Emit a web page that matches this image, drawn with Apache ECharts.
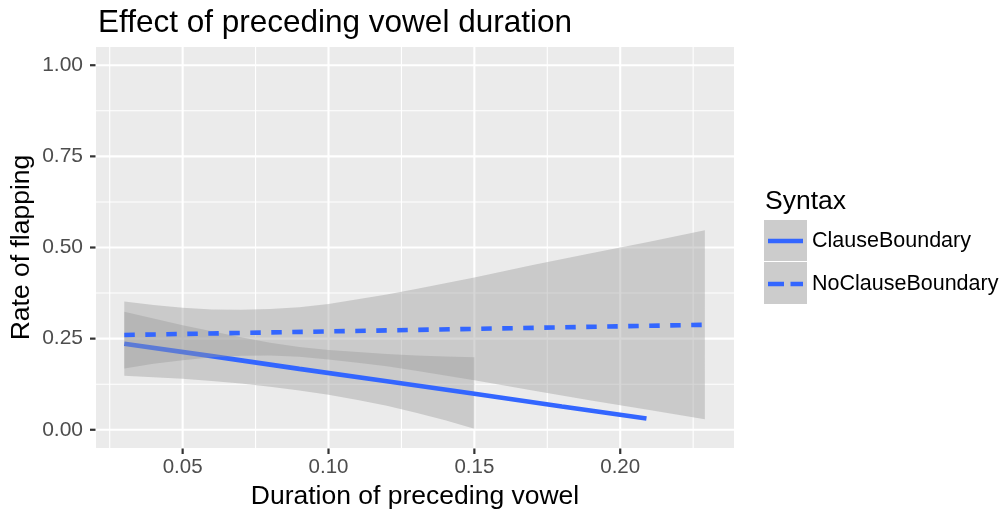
<!DOCTYPE html>
<html><head><meta charset="utf-8">
<script src="https://cdn.jsdelivr.net/npm/echarts@6/dist/echarts.min.js"></script>
<style>html,body{margin:0;padding:0;background:#fff}#c{width:1005px;height:512px}</style>
</head><body><div id="c"></div>
<script>
// ---- data ----
const xTicks = [0.05, 0.10, 0.15, 0.20];
const xMinor = [0.025, 0.075, 0.125, 0.175, 0.225];
const yTicks = [0, 0.25, 0.5, 0.75, 1];
const yMinor = [0.125, 0.375, 0.625, 0.875];
const seriesNames = ['ClauseBoundary', 'NoClauseBoundary'];

const clauseX = [0.030, 0.060, 0.090, 0.120, 0.150, 0.180, 0.209];
const clauseY = [0.236, 0.202, 0.167, 0.133, 0.099, 0.064, 0.031];
const clauseBandX = [0.03, 0.04, 0.05, 0.06, 0.07, 0.08, 0.09, 0.10, 0.11, 0.12, 0.13, 0.14, 0.15];
const clauseUpper = [0.324, 0.305, 0.287, 0.270, 0.254, 0.239, 0.227, 0.219, 0.213, 0.208, 0.204, 0.201, 0.199];
const clauseLower = [0.148, 0.144, 0.140, 0.134, 0.127, 0.118, 0.108, 0.096, 0.082, 0.066, 0.047, 0.026, 0.003];

const noClauseX = [0.030, 0.080, 0.130, 0.180, 0.229];
const noClauseY = [0.260, 0.267, 0.274, 0.281, 0.288];
const noClauseBandX = [0.03, 0.04, 0.05, 0.06, 0.07, 0.08, 0.09, 0.10, 0.11, 0.12, 0.13, 0.15, 0.17, 0.19, 0.21, 0.229];
const noClauseUpper = [0.352, 0.342, 0.335, 0.330, 0.329, 0.331, 0.336, 0.345, 0.358, 0.371, 0.386, 0.418, 0.452, 0.484, 0.516, 0.547];
const noClauseLower = [0.168, 0.181, 0.191, 0.199, 0.203, 0.204, 0.200, 0.193, 0.184, 0.174, 0.162, 0.136, 0.108, 0.080, 0.054, 0.029];

// ---- chart ----
const FONT = '"Liberation Sans", Arial, Helvetica, sans-serif';
const X_MIN = 0.0203, X_MAX = 0.2390, Y_MIN = -0.05, Y_MAX = 1.05;
const BLUE = '#3366FF';

function bandSeries(name, xs, lo, hi, z) {
  return {
    type: 'custom', name: name, z: z, silent: true, animation: false,
    data: [[xs[0], lo[0]]],
    renderItem: function (params, api) {
      const pts = [];
      for (let i = 0; i < xs.length; i++) pts.push(api.coord([xs[i], hi[i]]));
      for (let i = xs.length - 1; i >= 0; i--) pts.push(api.coord([xs[i], lo[i]]));
      return { type: 'polygon', shape: { points: pts }, style: { fill: 'rgba(153,153,153,0.4)' } };
    }
  };
}

const gridSeries = {
  type: 'custom', name: 'gridlines', z: 1, silent: true, animation: false, clip: false,
  data: [[X_MIN, Y_MIN]],
  renderItem: function (params, api) {
    const children = [];
    const mk = (a, b, w, c) => children.push({ type: 'line', shape: { x1: a[0], y1: a[1], x2: b[0], y2: b[1] },
      style: { stroke: c || '#FFFFFF', lineWidth: w } });
    xMinor.forEach(v => mk(api.coord([v, Y_MIN]), api.coord([v, Y_MAX]), 1.1));
    yMinor.forEach(v => mk(api.coord([X_MIN, v]), api.coord([X_MAX, v]), 1.1));
    xTicks.forEach(v => mk(api.coord([v, Y_MIN]), api.coord([v, Y_MAX]), 2.1));
    yTicks.forEach(v => mk(api.coord([X_MIN, v]), api.coord([X_MAX, v]), 2.1));
    // axis ticks (outside the panel)
    xTicks.forEach(v => { const p = api.coord([v, Y_MIN]); mk([p[0], p[1] + 0.5], [p[0], p[1] + 6], 2.2, '#333333'); });
    yTicks.forEach(v => { const p = api.coord([X_MIN, v]); mk([p[0] - 6, p[1]], [p[0] - 0.5, p[1]], 2.2, '#333333'); });
    return { type: 'group', children: children };
  }
};

const chart = echarts.init(document.getElementById('c'));
chart.setOption({
  animation: false,
  backgroundColor: '#FFFFFF',
  title: {
    text: 'Effect of preceding vowel duration', left: 93, top: 2,
    textStyle: { fontFamily: FONT, fontSize: 31.5, fontWeight: 'normal', color: '#000' }
  },
  grid: { left: 96, right: 271, top: 47, bottom: 64, show: true, backgroundColor: '#EBEBEB', borderWidth: 0,
    containLabel: false, outerBoundsMode: 'none' },
  xAxis: {
    type: 'value', min: X_MIN, max: X_MAX,
    name: 'Duration of preceding vowel', nameLocation: 'middle', nameGap: 30,
    nameTextStyle: { fontFamily: FONT, fontSize: 26.5, color: '#000' },
    axisLine: { show: false },
    axisTick: { show: false },
    axisLabel: { customValues: xTicks, formatter: v => v.toFixed(2), color: '#4D4D4D', fontFamily: FONT, fontSize: 20.5, margin: 9 },
    splitLine: { show: false }
  },
  yAxis: {
    type: 'value', min: Y_MIN, max: Y_MAX,
    name: 'Rate of flapping', nameLocation: 'middle', nameGap: 61,
    nameMoveOverlap: false,
    nameTextStyle: { fontFamily: FONT, fontSize: 26.5, color: '#000' },
    axisLine: { show: false },
    axisTick: { show: false },
    axisLabel: { customValues: yTicks, formatter: v => v.toFixed(2), color: '#4D4D4D', fontFamily: FONT, fontSize: 21, margin: 13 },
    splitLine: { show: false }
  },
  legend: {
    data: [
      { name: seriesNames[0], icon: 'path://M0,0h35v4.6h-35z' },
      { name: seriesNames[1], icon: 'path://M0,0h16v4.6h-16zM22.5,0h12.5v4.6h-12.5z' }
    ],
    orient: 'vertical', left: 768, top: 228, padding: 0, z: 10,
    itemWidth: 35, itemHeight: 4.6, itemGap: 17,
    itemStyle: { borderWidth: 0 },
    textStyle: { fontFamily: FONT, fontSize: 21.5, color: '#000', lineHeight: 26, padding: [0, 0, 0, 4] }
  },
  graphic: [
    { type: 'rect', z: 5, shape: { x: 764, y: 220, width: 43, height: 41 }, style: { fill: '#CCCCCC' } },
    { type: 'rect', z: 5, shape: { x: 764, y: 262, width: 43, height: 42 }, style: { fill: '#CCCCCC' } },
    { type: 'text', z: 5, style: { text: 'Syntax', x: 765, y: 202, verticalAlign: 'middle', font: '26.5px ' + FONT, fill: '#000' } }
  ],
  series: [
    gridSeries,
    bandSeries('ClauseBoundary band', clauseBandX, clauseLower, clauseUpper, 2),
    {
      type: 'line', name: seriesNames[0], z: 3, symbol: 'none', showSymbol: false,
      data: clauseX.map((x, i) => [x, clauseY[i]]),
      lineStyle: { color: BLUE, width: 4.6 }, itemStyle: { color: BLUE }
    },
    bandSeries('NoClauseBoundary band', noClauseBandX, noClauseLower, noClauseUpper, 4),
    {
      type: 'line', name: seriesNames[1], z: 5, symbol: 'none', showSymbol: false,
      data: noClauseX.map((x, i) => [x, noClauseY[i]]),
      lineStyle: { color: BLUE, width: 4.6, type: [10.5, 10.5] }, itemStyle: { color: BLUE }
    }
  ]
});
</script></body></html>
